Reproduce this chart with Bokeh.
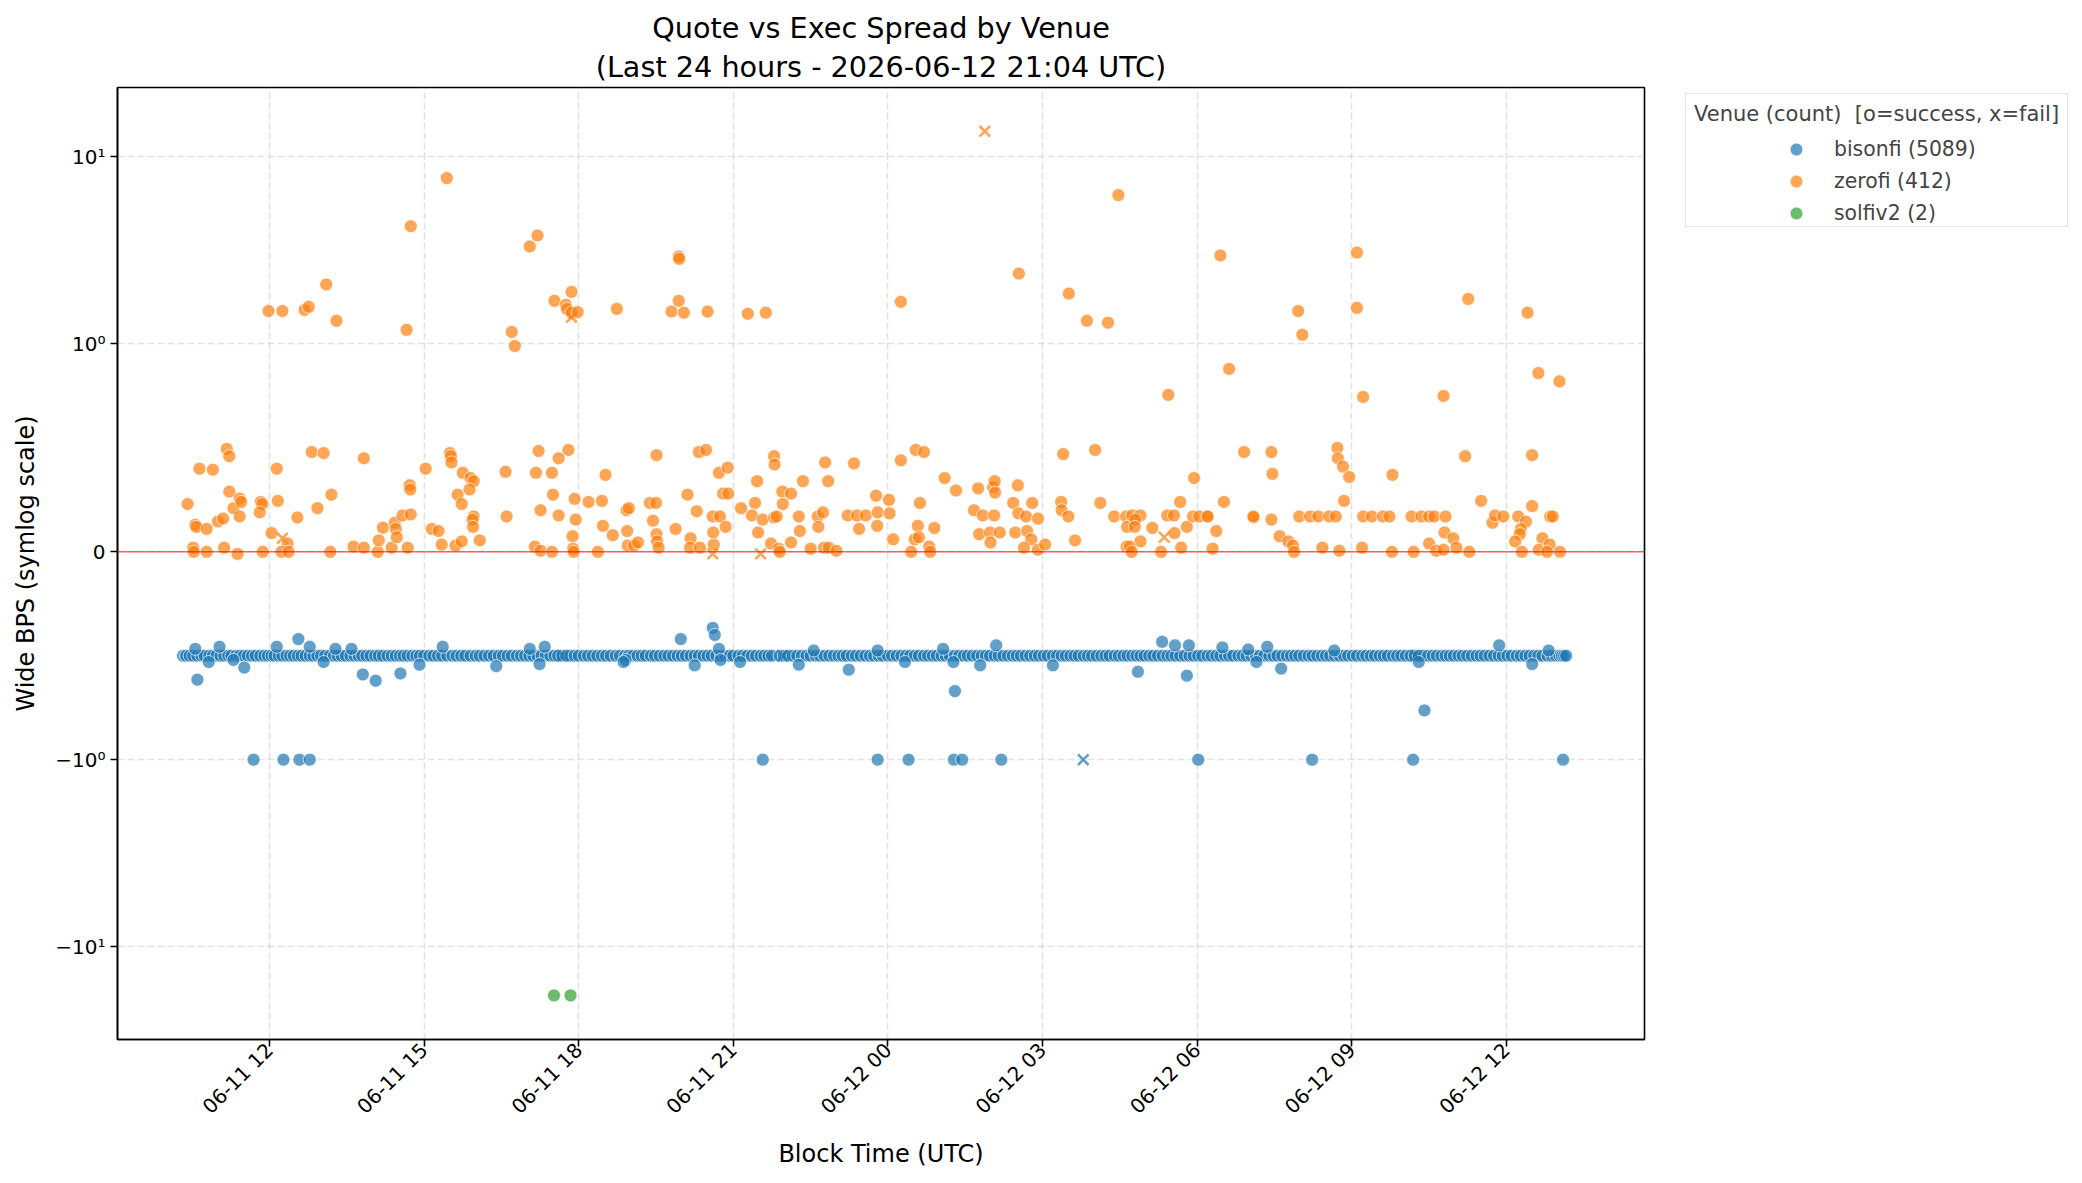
import pandas as pd
from bokeh.plotting import figure
from bokeh.layouts import row
from bokeh.models import (ColumnDataSource, Range1d, FixedTicker, CustomJSTickFormatter,
                          CustomJSTransform, Span, Legend, LegendItem, Title,
                          DatetimeTickFormatter)
from bokeh.transform import transform
from bokeh.embed import file_html
from bokeh.resources import INLINE

# ---------------- data (hours since 2026-06-11 00:00 UTC, value in bps) ----------------
BASE = pd.Timestamp("2026-06-11 00:00")

bisonfi_band_hours = [
    10.32, 10.38, 10.45, 10.52, 10.6, 10.68, 10.74, 10.83, 10.9, 10.97,
    11.05, 11.12, 11.2, 11.26, 11.35, 11.42, 11.5, 11.58, 11.66, 11.73, 11.82, 11.9, 11.97,
    12.04, 12.1, 12.18, 12.25, 12.33, 12.4, 12.47, 12.55, 12.62, 12.7, 12.78, 12.85, 12.93,
    13.0, 13.08, 13.17, 13.25, 13.32, 13.4, 13.48, 13.57, 13.65, 13.73, 13.8, 13.88, 13.96,
    14.05, 14.12, 14.2, 14.29, 14.37, 14.45, 14.53, 14.6, 14.68, 14.77, 14.85, 14.92,
    15.0, 15.1, 15.18, 15.27, 15.35, 15.45, 15.55, 15.63, 15.72, 15.8, 15.9,
    16.0, 16.08, 16.17, 16.26, 16.35, 16.45, 16.53, 16.62, 16.7, 16.8, 16.88, 16.96,
    17.04, 17.12, 17.2, 17.28, 17.36, 17.45, 17.53, 17.6, 17.68, 17.76, 17.84, 17.92,
    18.0, 18.1, 18.18, 18.27, 18.36, 18.45, 18.53, 18.62, 18.72, 18.8, 18.9, 18.97,
    19.05, 19.14, 19.22, 19.3, 19.4, 19.48, 19.57, 19.66, 19.74, 19.83, 19.92,
    20.0, 20.08, 20.17, 20.25, 20.33, 20.42, 20.5, 20.58, 20.67, 20.76, 20.84, 20.93,
    21.0, 21.1, 21.18, 21.27, 21.36, 21.44, 21.53, 21.6, 21.68, 21.75,
    21.9, 21.98, 22.06, 22.15, 22.24, 22.33, 22.42, 22.5, 22.6, 22.68, 22.77, 22.86, 22.95,
    23.04, 23.12, 23.2, 23.3, 23.38, 23.47, 23.56, 23.65, 23.73, 23.82, 23.9,
    24.0, 24.08, 24.17, 24.26, 24.35, 24.43, 24.52, 24.6, 24.7, 24.78, 24.87, 24.95,
    25.04, 25.12, 25.2, 25.3, 25.38, 25.47, 25.55, 25.64, 25.73, 25.82, 25.9, 25.98,
    26.07, 26.15, 26.24, 26.33, 26.42, 26.5, 26.58, 26.67, 26.76, 26.85, 26.93,
    27.02, 27.1, 27.2, 27.28, 27.37, 27.45, 27.54, 27.62, 27.7, 27.8, 27.88, 27.96,
    28.05, 28.14, 28.22, 28.3, 28.4, 28.48, 28.57, 28.65, 28.74, 28.82, 28.9, 28.98,
    29.07, 29.15, 29.24, 29.33, 29.42, 29.5, 29.58, 29.67, 29.76, 29.85, 29.93,
    30.02, 30.1, 30.2, 30.28, 30.37, 30.45, 30.54, 30.62, 30.7, 30.8, 30.88, 30.96,
    31.05, 31.14, 31.22, 31.3, 31.4, 31.48, 31.56, 31.65, 31.74, 31.82, 31.9, 31.98,
    32.07, 32.16, 32.24, 32.33, 32.42, 32.5, 32.58, 32.67, 32.76, 32.85, 32.93,
    33.02, 33.1, 33.2, 33.28, 33.37, 33.45, 33.54, 33.62, 33.7, 33.8, 33.88, 33.96,
    34.05, 34.14, 34.22, 34.3, 34.4, 34.48, 34.57, 34.65, 34.74, 34.82, 34.9, 34.98,
    35.07, 35.15, 35.24, 35.33, 35.42, 35.5, 35.58, 35.67, 35.76, 35.85, 35.93,
    36.02, 36.1, 36.2, 36.28, 36.37, 36.45, 36.54, 36.62, 36.7, 36.8, 36.88, 36.96,
    37.03, 37.08, 37.12, 37.16,
]
bisonfi_band_bps = [-0.5] * len(bisonfi_band_hours)

bisonfi_other_hours = [
    10.56, 10.6, 10.82, 11.03, 11.3, 11.51, 11.69, 12.14, 12.27, 12.56, 12.58, 12.78, 12.78,
    13.05, 13.28, 13.59, 13.81, 14.06, 14.54, 14.91, 15.36, 16.4, 17.05, 17.24, 17.34, 18.91,
    18.87, 19.98, 20.25, 20.6, 20.64, 20.72, 20.75, 21.13, 21.57, 22.27, 22.56, 23.24, 23.8,
    23.8, 24.33, 24.4, 25.07, 25.27, 25.3, 25.28, 25.44, 25.79, 26.1, 26.2, 27.2,
    28.85, 29.32, 29.57, 29.84, 29.8, 30.02, 30.49, 30.99, 31.15, 31.36, 31.63, 32.23,
    32.66, 34.19, 34.41, 34.3, 35.86, 36.5, 36.82, 37.1,
]
bisonfi_other_bps = [
    -0.467, -0.615, -0.53, -0.457, -0.52, -0.557, -1.0, -0.457, -1.0, -0.42, -1.0, -1.0, -0.457,
    -0.53, -0.467, -0.467, -0.59, -0.62, -0.585, -0.543, -0.457, -0.55, -0.467, -0.54, -0.457, -0.52,
    -0.53, -0.42, -0.546, -0.366, -0.40, -0.467, -0.52, -0.53, -1.0, -0.543, -0.475, -0.567, -1.0,
    -0.475, -0.53, -1.0, -0.467, -0.53, -0.67, -1.0, -1.0, -0.546, -0.45, -1.0, -0.546,
    -0.577, -0.433, -0.45, -0.45, -0.596, -1.0, -0.46, -0.47, -0.53, -0.457, -0.562, -1.0,
    -0.475, -1.0, -0.763, -0.53, -0.45, -0.54, -0.475, -1.0,
]

bisonfi_fail_hours = [17.69, 21.96, 27.79, 34.24]
bisonfi_fail_bps = [-0.5, -0.5, -1.0, -0.5]

zerofi_hours = [
    # above 0.6 bps
    11.98, 12.25, 12.68, 12.76, 13.10, 13.30, 14.74, 14.66, 15.44,
    17.20, 17.05, 17.86, 17.53, 17.75, 17.77, 17.86, 17.98, 16.70, 16.76, 18.74,
    19.94, 19.95, 19.94, 19.80, 20.04, 20.50, 21.28, 21.63,
    24.25, 26.54, 27.51, 27.86, 28.27, 28.47, 30.45, 30.62, 29.44,
    31.96, 32.04, 33.10, 33.10, 33.22, 34.78, 35.26, 36.41, 36.62, 37.03,
    # 06-11 10h - 19h, below 0.6
    10.41, 10.56, 10.58, 10.78, 10.52, 10.53, 10.78, 10.64, 10.90, 11.17, 11.22,
    11.0, 11.1, 11.12, 11.22, 11.3, 11.42, 11.45, 11.42, 11.38,
    11.83, 11.86, 11.81, 11.87, 12.14, 12.16, 12.04, 12.35, 12.23, 12.37,
    12.54, 12.82, 13.05, 12.93, 13.2, 13.18, 13.83, 13.63, 13.83,
    14.1, 14.2, 14.12, 14.37, 14.43, 14.45, 14.47, 14.58, 14.74, 14.72, 14.73, 14.68,
    15.03, 15.15, 15.28, 15.34, 15.61, 15.73, 15.5, 15.52, 15.53, 15.75, 15.9, 15.96,
    15.88, 15.65, 15.73, 15.96, 15.94, 15.95, 16.08, 16.58, 16.6,
    17.22, 17.17, 17.48, 17.61, 17.8, 17.5, 17.26, 17.61, 17.92, 17.94, 17.88, 17.89, 17.9,
    17.15, 17.26, 17.48, 18.19, 18.45, 18.52, 18.47, 18.66, 18.37, 18.93, 18.94, 18.95,
    # 06-11 19h - 06-12 04h
    18.97, 19.07, 19.15, 19.51, 19.38, 19.5, 19.44, 19.51, 19.52, 19.55, 19.88,
    20.11, 20.33, 20.47, 20.29, 20.17, 20.16, 20.35, 20.6, 20.74, 20.62, 20.61,
    20.72, 20.89, 20.8, 20.9, 20.85, 21.15, 21.36, 21.42, 21.46, 21.57, 21.48,
    21.79, 21.8, 21.95, 22.12, 21.96, 21.79, 21.84, 21.73, 21.88, 21.9, 22.12,
    22.27, 22.29, 22.35, 22.5, 22.64, 22.74, 22.65, 22.78, 22.84, 22.76, 22.85, 23.0,
    23.22, 23.34, 23.4, 23.57, 23.44, 23.79, 23.77, 23.8, 24.02, 24.03, 24.1,
    24.25, 24.54, 24.7, 24.62, 24.58, 24.52, 24.6, 24.45, 24.8, 24.82, 24.9,
    25.1, 25.32, 25.75, 25.67, 25.84, 26.06, 26.04, 26.07, 26.08, 25.77, 25.98, 25.99,
    26.17, 26.52, 26.43, 26.8, 26.53, 26.68, 26.91, 26.47, 26.7, 26.78, 26.64, 26.91,
    27.05, 27.4, 27.36, 27.37, 27.5, 27.63, 28.02, 28.12, 28.39, 28.62, 28.64, 28.63,
    # 06-12 04h - 13h
    28.74, 28.9, 28.8, 28.79, 28.9, 28.69, 28.73, 29.13, 29.3, 29.42, 29.55, 29.56,
    29.67, 29.69, 29.8, 29.94, 29.92, 30.04, 30.21, 30.2, 30.3, 30.37, 30.52,
    30.91, 31.1, 31.09, 31.46, 31.44, 31.44, 31.6, 31.77, 31.86, 31.88, 31.98,
    32.19, 32.35, 32.43, 32.56, 32.69, 32.72, 32.73, 32.83, 32.95, 32.85, 32.76,
    33.2, 33.22, 33.39, 33.6, 33.73, 33.79, 33.78, 34.16, 34.35, 34.5, 34.6, 34.82,
    34.2, 34.5, 34.64, 34.8, 34.97, 35.03, 34.78, 35.28, 35.2, 35.51, 35.73, 35.78,
    35.94, 36.23, 36.38, 36.28, 36.26, 36.17, 36.3, 36.5, 36.5, 36.7, 36.63, 36.85,
    36.9, 36.84, 36.79, 37.04,
]
zerofi_bps = [
    1.50, 1.50, 1.52, 1.58, 2.08, 1.33, 4.26, 1.19, 7.7,
    3.8, 3.32, 1.9, 1.70, 1.62, 1.54, 1.47, 1.48, 1.16, 0.99, 1.54,
    2.93, 2.85, 1.70, 1.49, 1.47, 1.49, 1.45, 1.47,
    1.68, 2.38, 1.86, 1.33, 1.30, 6.25, 2.97, 0.88, 0.755,
    1.50, 1.12, 3.08, 1.56, 0.745, 0.75, 1.74, 1.47, 0.86, 0.82,
    0.23, 0.13, 0.12, 0.11, 0.02, 0.0, 0.0, 0.40, 0.395, 0.495, 0.46,
    0.146, 0.16, 0.02, 0.29, 0.21, 0.256, 0.24, 0.17, -0.01,
    0.24, 0.23, 0.19, 0.0, 0.40, 0.245, 0.09, 0.04, 0.0, 0.0,
    0.165, 0.48, 0.475, 0.21, 0.275, 0.0, 0.45, 0.025, 0.02,
    0.0, 0.116, 0.055, 0.02, 0.14, 0.11, 0.07, 0.175, 0.18, 0.32, 0.30, 0.02,
    0.40, 0.11, 0.10, 0.035, 0.03, 0.05, 0.475, 0.46, 0.43, 0.38, 0.355, 0.34,
    0.30, 0.275, 0.23, 0.17, 0.155, 0.12, 0.055, 0.385, 0.17,
    0.485, 0.38, 0.38, 0.45, 0.49, 0.275, 0.20, 0.175, 0.255, 0.155, 0.075, 0.015, 0.0,
    0.025, 0.005, 0.0, 0.24, 0.245, 0.37, 0.125, 0.08, 0.0, 0.20, 0.10, 0.03,
    0.21, 0.03, 0.045, 0.465, 0.235, 0.235, 0.15, 0.085, 0.05, 0.02, 0.11,
    0.275, 0.48, 0.49, 0.195, 0.065, 0.02, 0.02, 0.17, 0.17, 0.035, 0.093,
    0.38, 0.405, 0.28, 0.28, 0.12, 0.21, 0.175, 0.235, 0.34, 0.155, 0.093,
    0.46, 0.42, 0.29, 0.28, 0.23, 0.165, 0.17, 0.04, 0.015, 0.0, 0.045,
    0.17, 0.10, 0.34, 0.015, 0.17, 0.19, 0.12, 0.43, 0.34, 0.02, 0.02, 0.005,
    0.175, 0.425, 0.175, 0.175, 0.11, 0.125, 0.27, 0.19, 0.25, 0.185, 0.06,
    0.44, 0.49, 0.48, 0.235, 0.125, 0.06, 0.07, 0.0, 0.025, 0.0, 0.115,
    0.355, 0.295, 0.305, 0.20, 0.175, 0.175, 0.31, 0.34, 0.285, 0.085, 0.093, 0.045,
    0.093, 0.32, 0.235, 0.235, 0.185, 0.17, 0.16, 0.093, 0.10, 0.06, 0.02, 0.01,
    0.035, 0.47, 0.24, 0.20, 0.17, 0.055, 0.49, 0.235, 0.17, 0.17, 0.12, 0.025,
    0.175, 0.175, 0.155, 0.12, 0.05, 0.025, 0.0, 0.115, 0.0, 0.175, 0.175, 0.09,
    0.24, 0.02, 0.12, 0.355, 0.17, 0.17, 0.17, 0.17, 0.015, 0.10, 0.24,
    0.48, 0.165, 0.17, 0.375, 0.48, 0.155, 0.075, 0.05, 0.03, 0.0, 0.17,
    0.17, 0.17, 0.02, 0.17, 0.17, 0.50, 0.45, 0.41, 0.36, 0.245, 0.005,
    0.02, 0.17, 0.17, 0.17, 0.17, 0.37, 0.0, 0.17, 0.17, 0.17, 0.17, 0.17,
    0.0, 0.04, 0.005, 0.093, 0.065, 0.02, 0.01, 0.0, 0.46, 0.245, 0.14, 0.175,
    0.17, 0.17, 0.145, 0.11, 0.085, 0.05, 0.0, 0.465, 0.22, 0.065, 0.01, 0.17,
    0.17, 0.035, 0.0, 0.0,
]

zerofi_fail_hours = [12.25, 17.86, 20.6, 21.53, 25.88, 29.36]
zerofi_fail_bps = [0.065, 1.39, -0.01, -0.01, 13.7, 0.07]

solfiv2_hours = [17.52, 17.84]
solfiv2_bps = [-18.2, -18.2]

venue_labels = ["bisonfi (5089)", "zerofi (412)", "solfiv2 (2)"]
venue_colors = ["#1f77b4", "#ff7f0e", "#2ca02c"]
legend_title = "Venue (count)\u00a0\u00a0[o=success, x=fail]"
x_tick_hours = [12, 15, 18, 21, 24, 27, 30, 33, 36]

# ---------------- helpers ----------------
def times(hours):
    return [BASE + pd.Timedelta(hours=h) for h in hours]

def src(hours, bps):
    return ColumnDataSource(dict(t=times(hours), bps=bps))

LS = 1.0 / 0.9  # matplotlib symlog linscale factor (linthresh=1, base=10)
symlog = CustomJSTransform(
    func="const a = Math.abs(x); return a <= 1 ? x / 0.9 : Math.sign(x) * (1 / 0.9 + Math.log10(a));",
    v_func=("const out = new Array(xs.length);"
            "for (let i = 0; i < xs.length; i++) { const x = xs[i]; const a = Math.abs(x);"
            " out[i] = a <= 1 ? x / 0.9 : Math.sign(x) * (1 / 0.9 + Math.log10(a)); }"
            "return out;"),
)

FONT = "DejaVu Sans"

p = figure(
    x_axis_type="datetime",
    frame_width=1527, frame_height=952,
    x_range=Range1d(BASE + pd.Timedelta(hours=9.05), BASE + pd.Timedelta(hours=38.68)),
    y_range=Range1d(-2.607, 2.482),
    output_backend="svg", toolbar_location=None,
    min_border_left=117, min_border_right=2, min_border_top=87, min_border_bottom=10,
    background_fill_color="white", border_fill_color="white",
)

# titles
p.add_layout(Title(text="(Last 24 hours - 2026-06-12 21:04 UTC)", align="center",
                   text_font=FONT, text_font_size="28.7px", text_font_style="normal",
                   text_color="black", standoff=8), "above")
p.add_layout(Title(text="Quote vs Exec Spread by Venue", align="center",
                   text_font=FONT, text_font_size="28.7px", text_font_style="normal",
                   text_color="black", standoff=-3), "above")

# axes
p.xaxis.ticker = FixedTicker(ticks=[(BASE + pd.Timedelta(hours=h)).timestamp() * 1000 for h in x_tick_hours])
fmt = "%m-%d %H"
p.xaxis.formatter = DatetimeTickFormatter(hours=fmt, hourmin=fmt, days=fmt, minutes=fmt,
                                          minsec=fmt, months=fmt, years=fmt)
p.xaxis.major_label_orientation = 0.7854
p.yaxis.ticker = FixedTicker(ticks=[-(LS + 1), -LS, 0.0, LS, LS + 1])
p.yaxis.formatter = CustomJSTickFormatter(code="""
const a = Math.abs(tick);
if (a < 1e-9) return "0";
const s = tick < 0 ? "\u2212" : "";
return s + (a < 1.6 ? "10\u2070" : "10\u00b9");
""")
p.xaxis.axis_label = "Block Time (UTC)"
p.yaxis.axis_label = "Wide BPS (symlog scale)"
for ax in (p.xaxis[0], p.yaxis[0]):
    ax.axis_label_text_font = FONT
    ax.axis_label_text_font_size = "24px"
    ax.axis_label_text_font_style = "normal"
    ax.axis_label_text_color = "black"
    ax.major_label_text_font = FONT
    ax.major_label_text_font_size = "20px"
    ax.major_label_text_color = "black"
    ax.axis_line_color = "black"
    ax.axis_line_width = 1.6
    ax.major_tick_line_color = "black"
    ax.major_tick_line_width = 1.6
    ax.major_tick_out = 7
    ax.major_tick_in = 0
    ax.minor_tick_line_color = None
    ax.major_label_standoff = 5
p.xaxis.major_label_standoff = 0
p.yaxis.axis_label_standoff = 12
p.xaxis.axis_label_standoff = 10

p.outline_line_color = "black"
p.outline_line_width = 1.6
p.outline_line_alpha = 1.0

for g in (p.xgrid[0], p.ygrid[0]):
    g.grid_line_color = "#b0b0b0"
    g.grid_line_alpha = 0.35
    g.grid_line_dash = "7 3"
    g.grid_line_width = 1.6

p.add_layout(Span(location=0, dimension="width", line_color="red", line_alpha=0.6, line_width=1.6))

# ---------------- glyphs ----------------
def success(source, color):
    return p.scatter(x="t", y=transform("bps", symlog), source=source, marker="circle",
                     size=13, fill_color=color, fill_alpha=0.7,
                     line_color="white", line_alpha=0.7, line_width=1)

def fail(source, color):
    return p.scatter(x="t", y=transform("bps", symlog), source=source, marker="x",
                     size=15, line_color=color, line_alpha=0.7, line_width=2.6)

success(src(bisonfi_band_hours + bisonfi_other_hours, bisonfi_band_bps + bisonfi_other_bps), venue_colors[0])
fail(src(bisonfi_fail_hours, bisonfi_fail_bps), venue_colors[0])
success(src(zerofi_hours, zerofi_bps), venue_colors[1])
fail(src(zerofi_fail_hours, zerofi_fail_bps), venue_colors[1])
success(src(solfiv2_hours, solfiv2_bps), venue_colors[2])

# ---------------- legend panel (separate, axis-less figure to the right) ----------------
lg = figure(frame_width=430, frame_height=952, x_range=Range1d(0, 1), y_range=Range1d(0, 1),
            x_axis_location=None, y_axis_location=None, output_backend="svg",
            toolbar_location=None, min_border_left=0, min_border_right=0,
            min_border_top=87, min_border_bottom=120, outline_line_color=None,
            background_fill_color="white", border_fill_color="white")
lg.grid.visible = False

# legend key glyphs (one off-range point each, so only the legend swatch is visible)
key_renderers = [lg.scatter(x=[-5.0], y=[-5.0], marker="circle", size=13, fill_color=c,
                            fill_alpha=0.7, line_color="white", line_alpha=0.7, line_width=1)
                 for c in venue_colors]
frame_dummy = lg.scatter(x=[-5.0], y=[-5.0], marker="circle", size=1, fill_alpha=0, line_alpha=0)

legend_box = Legend(
    items=[LegendItem(label=lab, renderers=[frame_dummy]) for lab in venue_labels],
    title=legend_title,
    location=(39, 812),
    title_text_font=FONT, title_text_font_size="21px", title_text_font_style="normal",
    title_standoff=12,
    label_text_font=FONT, label_text_font_size="2px", label_text_alpha=0,
    glyph_width=10, glyph_height=16, label_height=16, label_standoff=2,
    spacing=16, padding=8, margin=0,
    border_line_color="#cccccc", border_line_width=1.5,
    background_fill_color="white", background_fill_alpha=0.8,
)
lg.add_layout(legend_box, "center")

legend_items = Legend(
    items=[LegendItem(label=lab, renderers=[r]) for lab, r in zip(venue_labels, key_renderers)],
    location=(130, 810),
    label_text_font=FONT, label_text_font_size="20.4px",
    glyph_width=40, glyph_height=32, label_height=32, label_standoff=18,
    spacing=0, padding=8, margin=0,
    border_line_color=None, background_fill_alpha=0,
)
lg.add_layout(legend_items, "center")

layout = row(p, lg)
open("out.html", "w").write(file_html(layout, INLINE))
